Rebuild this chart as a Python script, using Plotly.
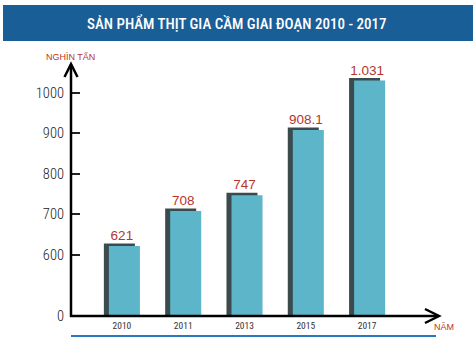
import plotly.graph_objects as go

# Poultry meat output by year (thousand tonnes)
years = ["2010", "2011", "2013", "2015", "2017"]
values = [621, 708, 747, 908.1, 1031]
value_labels = ["621", "708", "747", "908.1", "1.031"]

# Broken y axis: the "0" tick sits at AXIS_FLOOR, the other ticks are true values
AXIS_FLOOR = 448
tick_values = [AXIS_FLOOR, 600, 700, 800, 900, 1000]
tick_labels = ["0", "600", "700", "800", "900", "1000"]

TITLE = "SẢN PHẨM THỊT GIA CẦM GIAI ĐOẠN 2010 - 2017"
Y_UNIT = "NGHÌN TẤN"
X_UNIT = "NĂM"

# Canvas geometry (pixels)
W, H = 475, 348
L, R, T, B = 71, 35, 64, 32
PW, PH = W - L - R, H - T - B
PX_PER_UNIT = 0.404          # vertical pixels per thousand tonnes
SHADOW_LIFT = 2.5 / PX_PER_UNIT  # shadow rises a few px above the bar

CYAN = "#5db5c9"
DARK = "#3b4a4d"
RED = "#b8352c"
NAVY = "#1a5e97"
BLUE_RULE = "#2b78c2"

COND = "Roboto Condensed, DejaVu Sans Condensed, sans-serif"
SANS = "Liberation Sans, Arial, sans-serif"


def px2x(px):
    return (px - L) / PW


def px2y(py):
    return (H - B - py) / PH


BAR_W = 0.506
fig = go.Figure()

# dark shadow block behind each bar
fig.add_trace(go.Bar(
    x=years, y=[v + SHADOW_LIFT for v in values],
    width=BAR_W, offset=-0.294,
    marker=dict(color=DARK, line=dict(width=0)),
    hoverinfo="skip", showlegend=False,
))
# front cyan bar
fig.add_trace(go.Bar(
    x=years, y=values,
    width=BAR_W, offset=-0.212,
    marker=dict(color=CYAN, line=dict(width=0)),
    showlegend=False,
))
# value labels above the bars
fig.add_trace(go.Scatter(
    x=years, y=[v + SHADOW_LIFT for v in values],
    mode="text", text=value_labels, textposition="top center",
    textfont=dict(family=SANS, size=13.5, color=RED),
    cliponaxis=False, showlegend=False, hoverinfo="skip",
))

shapes = [
    # title banner
    dict(type="rect", xref="paper", yref="paper",
         x0=px2x(3), x1=px2x(473), y0=px2y(41), y1=px2y(5),
         fillcolor=NAVY, line=dict(width=0), layer="below"),
    # y axis line + arrow
    dict(type="line", xref="paper", yref="paper",
         x0=0, x1=0, y0=px2y(317), y1=px2y(64.5),
         line=dict(color="black", width=2.5)),
    dict(type="path", xref="paper", yref="paper",
         path=f"M {px2x(64.5)},{px2y(77)} L {px2x(71)},{px2y(64)} L {px2x(77.5)},{px2y(77)}",
         line=dict(color="black", width=2.5)),
    # x axis line + arrow
    dict(type="line", xref="paper", yref="paper",
         x0=px2x(70), x1=px2x(438.5), y0=0, y1=0,
         line=dict(color="black", width=2.5)),
    dict(type="path", xref="paper", yref="paper",
         path=f"M {px2x(425)},{px2y(309)} L {px2x(439)},{px2y(316)} L {px2x(425)},{px2y(323)}",
         line=dict(color="black", width=2.5)),
    # blue rule under the chart
    dict(type="line", xref="paper", yref="paper",
         x0=px2x(71), x1=px2x(436), y0=px2y(336), y1=px2y(336),
         line=dict(color=BLUE_RULE, width=2)),
]

annotations = [
    dict(text=TITLE, xref="paper", yref="paper", x=px2x(237), y=px2y(23.5),
         showarrow=False, xanchor="center", yanchor="middle",
         font=dict(family=COND, size=15, color="white", weight=500)),
    dict(text=Y_UNIT, xref="paper", yref="paper", x=px2x(70), y=px2y(57),
         showarrow=False, xanchor="center", yanchor="middle",
         font=dict(family=SANS, size=9, color=RED)),
    dict(text=X_UNIT, xref="paper", yref="paper", x=px2x(443.5), y=px2y(327),
         showarrow=False, xanchor="center", yanchor="middle",
         font=dict(family=SANS, size=9, color=RED)),
]

fig.update_layout(
    width=W, height=H,
    margin=dict(l=L, r=R, t=T, b=B, pad=0),
    paper_bgcolor="white", plot_bgcolor="white",
    barmode="overlay", showlegend=False,
    shapes=shapes, annotations=annotations,
    xaxis=dict(
        type="category", range=[-0.830, 5.189],
        showgrid=False, zeroline=False, showline=False, ticks="",
        tickfont=dict(family=COND, size=9.5, color="#333"),
        ticklabelstandoff=2, fixedrange=True,
    ),
    yaxis=dict(
        range=[AXIS_FLOOR, AXIS_FLOOR + PH / PX_PER_UNIT],
        tickmode="array", tickvals=tick_values, ticktext=tick_labels,
        showgrid=False, zeroline=False, showline=False,
        ticks="inside", ticklen=9, tickwidth=1.5, tickcolor="#222",
        tickfont=dict(family=COND, size=14.5, color="#222", weight=300),
        ticklabelstandoff=6, fixedrange=True,
    ),
)

fig.write_html("out.html")
